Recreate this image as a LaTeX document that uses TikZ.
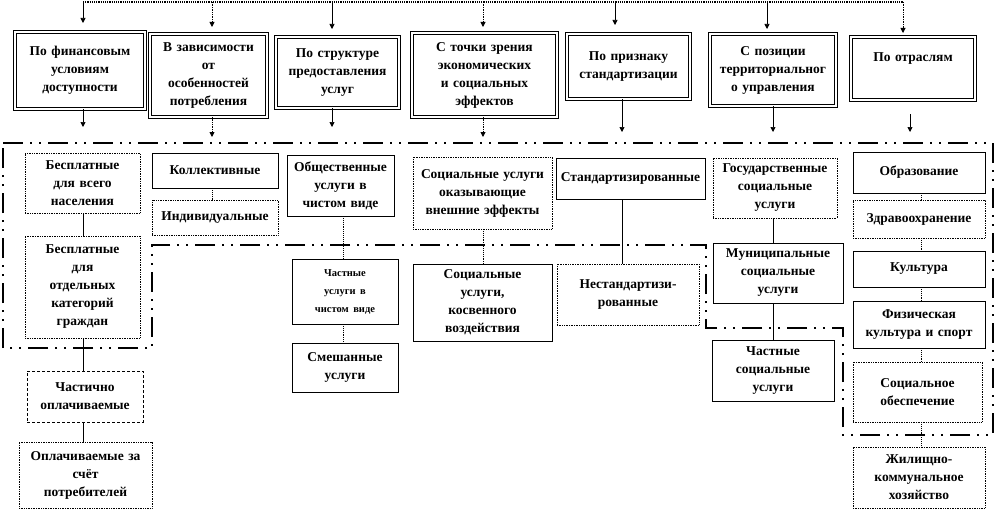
\documentclass[tikz,border=0pt]{standalone}
\usepackage{fontspec}
\setmainfont{Liberation Serif}
\usetikzlibrary{arrows.meta}
\newcommand\mybx[7]{%
  \pgfmathsetmacro\bw{#4-#2}\pgfmathsetmacro\bh{#5-#3}\pgfmathsetmacro\tw{#4-#2-4}%
  \node[#6, minimum width=\bw pt, minimum height=\bh pt, text width=\tw pt] (#1) at ({(#2+#4)/2},{(#3+#5)/2}) {#7};}
\begin{document}
\begin{tikzpicture}[x=1pt,y=-1pt,
  every node/.style={inner sep=0pt, outer sep=0pt, align=center, font=\bfseries\fontsize{13.5}{18}\selectfont},
  topbox/.style={draw, double, double distance=2pt, line width=0.9pt},
  solidbox/.style={draw, line width=0.6pt},
  dotbox/.style={draw, line width=0.7pt, densely dotted},
  dashbox/.style={draw, line width=0.7pt, densely dashed},
  arr/.style={-{Triangle[length=5pt,width=5pt]}, line width=0.7pt},
  dotline/.style={densely dotted, line width=0.9pt},
  solline/.style={line width=0.7pt},
  topline/.style={densely dotted, line width=1.2pt},
  regionline/.style={line width=2pt, dash pattern=on 20pt off 7pt on 2pt off 7pt on 2pt off 7pt}]
\useasboundingbox (0,0) rectangle (996,511);
% top boxes
\mybx{b1}{15}{32}{145}{109}{topbox}{По финансовым\\условиям\\доступности}
\mybx{b2}{150}{34}{267}{117}{topbox}{В зависимости\\от\\особенностей\\потребления}
\mybx{b3}{276}{37}{399}{108}{topbox}{По структуре\\предоставления\\услуг}
\mybx{b4}{412}{33}{557}{117}{topbox}{С точки зрения\\экономических\\и социальных\\эффектов}
\mybx{b5}{567}{34}{690}{99}{topbox}{По признаку\\стандартизации}
\mybx{b6}{710}{34}{836}{106}{topbox}{С позиции\\территориальног\\о управления}
\mybx{b7}{851}{37}{975}{100}{topbox}{По отраслям\\\strut}
% top distribution line
\coordinate (t1) at (83,2);
\coordinate (t2) at (212,2);
\coordinate (t3) at (332,2);
\coordinate (t4) at (483,2);
\coordinate (t5) at (615,2);
\coordinate (t6) at (767,2);
\coordinate (t7) at (903,2);
\draw[topline] (t1) -- (t7);
\draw[arr, shorten >=9pt] (t1) -- (t1 |- b1.north);
\draw[arr, dotline, shorten >=7pt] (t2) -- (t2 |- b2.north);
\draw[arr, shorten >=8pt] (t3) -- (t3 |- b3.north);
\draw[arr, dotline, shorten >=6pt] (t4) -- (t4 |- b4.north);
\draw[arr, shorten >=9pt] (t5) -- (t5 |- b5.north);
\draw[arr, shorten >=5pt] (t6) -- (t6 |- b6.north);
\draw[arr, dotline, shorten >=4pt] (t7) -- (t7 |- b7.north);
% arrows below top boxes
\coordinate (d1) at (83,127);
\coordinate (d2) at (212,137);
\coordinate (d3) at (332,127);
\coordinate (d4) at (483,137);
\coordinate (d5) at (622,132);
\coordinate (d6) at (773,132);
\coordinate (d7) at (910,132);
\draw[arr] (d1 |- b1.south) -- (d1);
\draw[arr, dotline] (d2 |- b2.south) -- (d2);
\draw[arr] (d3 |- b3.south) -- (d3);
\draw[arr, dotline] (d4 |- b4.south) -- (d4);
\draw[arr] (d5 |- b5.south) -- (d5);
\draw[arr] (d6 |- b6.south) -- (d6);
\draw[arr, shorten <=14pt] (d7 |- b7.south) -- (d7);
% region outline
\draw[regionline] (3,143) -- (993,143) -- (993,435) -- (843,435) -- (843,328) -- (706,328) -- (706,245) -- (152,245) -- (152,348) -- (3,348) -- cycle;
% column 1
\mybx{c1a}{25}{153}{140}{213}{dotbox}{Бесплатные\\для всего\\населения}
\mybx{c1b}{25}{236}{140}{338}{dotbox}{Бесплатные\\для\\отдельных\\категорий\\граждан}
\mybx{c1c}{27}{371}{143}{422}{dashbox}{Частично\\оплачиваемые}
\mybx{c1d}{19}{442}{152}{508}{dotbox}{Оплачиваемые за\\счёт\\потребителей}
\draw[solline] (c1a.south -| d1) -- (c1b.north -| d1);
\draw[solline] (c1b.south -| d1) -- (c1c.north -| d1);
\draw[solline] (c1c.south -| d1) -- (c1d.north -| d1);
% column 2
\mybx{c2a}{152}{153}{278}{188}{solidbox}{Коллективные}
\mybx{c2b}{152}{200}{278}{235}{dotbox}{Индивидуальные}
\draw[dotline] (c2a.south -| d2) -- (c2b.north -| d2);
% column 3
\coordinate (x3) at (343,0);
\mybx{c3a}{287}{155}{394}{216}{solidbox}{Общественные\\услуги в\\чистом виде}
\mybx{c3b}{292}{259}{398}{324}{solidbox}{{\fontsize{10.5}{18}\selectfont Частные\\услуги в\\чистом виде}}
\mybx{c3c}{292}{343}{398}{392}{solidbox}{Смешанные\\услуги}
\draw[dotline] (c3a.south -| x3) -- (c3b.north -| x3);
\draw[dotline] (c3b.south -| x3) -- (c3c.north -| x3);
% column 4
\mybx{c4a}{413}{157}{552}{229}{dotbox}{Социальные услуги\\оказывающие\\внешние эффекты}
\mybx{c4b}{413}{264}{552}{341}{solidbox}{Социальные\\услуги,\\косвенного\\воздействия}
\draw[dotline] (c4a.south -| d4) -- (c4b.north -| d4);
% column 5
\mybx{c5a}{556}{158}{705}{199}{solidbox}{Стандартизированные}
\mybx{c5b}{557}{264}{699}{325}{dotbox}{Нестандартизи-\\рованные}
\draw[solline] (c5a.south -| d5) -- (c5b.north -| d5);
% column 6
\mybx{c6a}{713}{158}{837}{218}{dotbox}{Государственные\\социальные\\услуги}
\mybx{c6b}{713}{243}{843}{303}{solidbox}{Муниципальные\\социальные\\услуги}
\mybx{c6c}{712}{340}{834}{401}{solidbox}{Частные\\социальные\\услуги}
\draw[solline] (c6a.south -| d6) -- (c6b.north -| d6);
\draw[solline] (c6b.south -| d6) -- (c6c.north -| d6);
% column 7
\coordinate (x7) at (921,0);
\mybx{c7a}{853}{152}{985}{193}{solidbox}{Образование}
\mybx{c7b}{853}{200}{985}{238}{dotbox}{Здравоохранение}
\mybx{c7c}{853}{251}{985}{287}{solidbox}{Культура}
\mybx{c7d}{853}{301}{985}{348}{solidbox}{Физическая\\культура и спорт}
\mybx{c7e}{853}{362}{982}{422}{dotbox}{Социальное\\обеспечение}
\mybx{c7f}{853}{447}{985}{508}{dotbox}{Жилищно-\\коммунальное\\хозяйство}
\draw[dotline] (c7a.south -| x7) -- (c7b.north -| x7);
\draw[dotline] (c7b.south -| x7) -- (c7c.north -| x7);
\draw[dotline] (c7c.south -| x7) -- (c7d.north -| x7);
\draw[dotline] (c7d.south -| x7) -- (c7e.north -| x7);
\draw[dotline] (c7e.south -| x7) -- (c7f.north -| x7);
\end{tikzpicture}
\end{document}
